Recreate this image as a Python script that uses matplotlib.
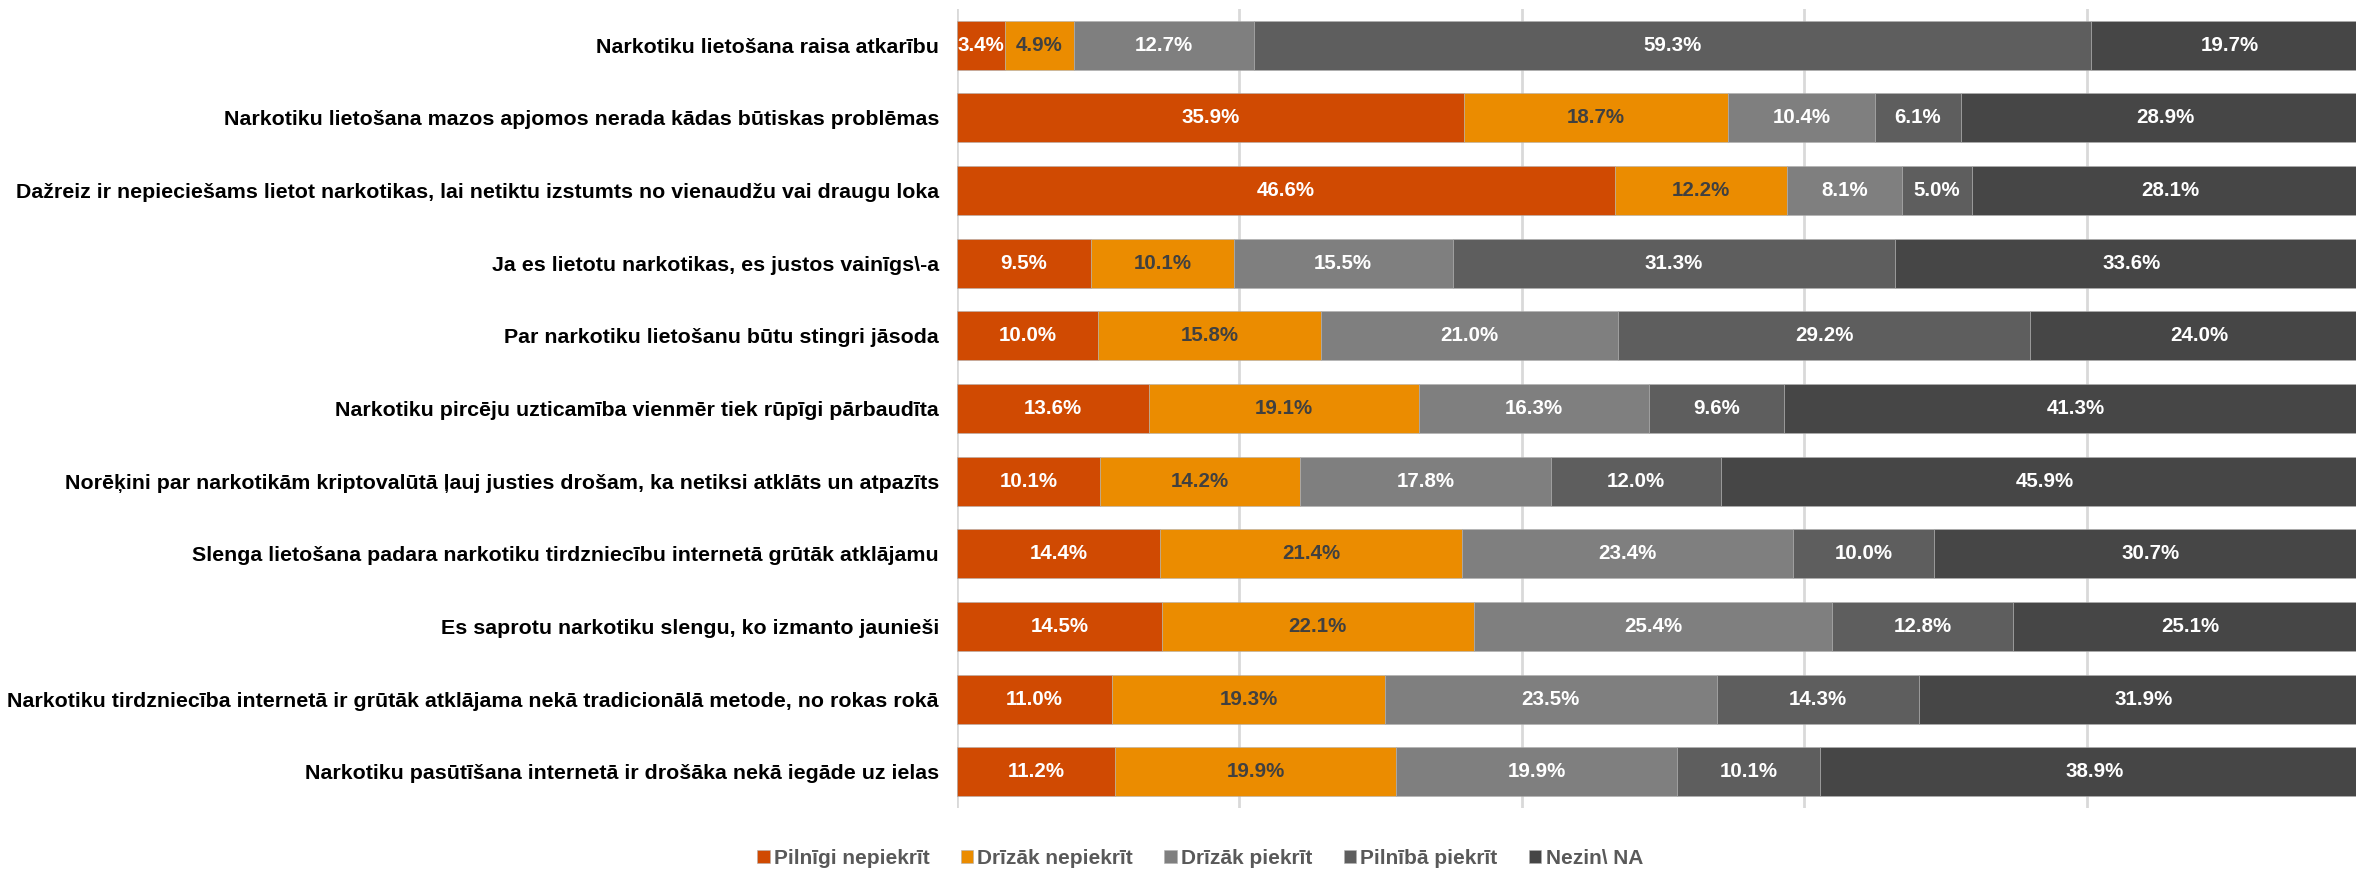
import numpy as np
import matplotlib.pyplot as plt

statements = [
    "Narkotiku lietošana raisa atkarību",
    "Narkotiku lietošana mazos apjomos nerada kādas būtiskas problēmas",
    "Dažreiz ir nepieciešams lietot narkotikas, lai netiktu izstumts no vienaudžu vai draugu loka",
    "Ja es lietotu narkotikas, es justos vainīgs\\-a",
    "Par narkotiku lietošanu būtu stingri jāsoda",
    "Narkotiku pircēju uzticamība vienmēr tiek rūpīgi pārbaudīta",
    "Norēķini par narkotikām kriptovalūtā ļauj justies drošam, ka netiksi atklāts un atpazīts",
    "Slenga lietošana padara narkotiku tirdzniecību internetā grūtāk atklājamu",
    "Es saprotu narkotiku slengu, ko izmanto jaunieši",
    "Narkotiku tirdzniecība internetā ir grūtāk atklājama nekā tradicionālā metode, no rokas rokā",
    "Narkotiku pasūtīšana internetā ir drošāka nekā iegāde uz ielas",
]
answers = ["Pilnīgi nepiekrīt", "Drīzāk nepiekrīt", "Drīzāk piekrīt", "Pilnībā piekrīt", "Nezin\\ NA"]

pilnigi_nepiekrit = [3.4, 35.9, 46.6, 9.5, 10.0, 13.6, 10.1, 14.4, 14.5, 11.0, 11.2]
drizak_nepiekrit = [4.9, 18.7, 12.2, 10.1, 15.8, 19.1, 14.2, 21.4, 22.1, 19.3, 19.9]
drizak_piekrit = [12.7, 10.4, 8.1, 15.5, 21.0, 16.3, 17.8, 23.4, 25.4, 23.5, 19.9]
pilniba_piekrit = [59.3, 6.1, 5.0, 31.3, 29.2, 9.6, 12.0, 10.0, 12.8, 14.3, 10.1]
nezin = [19.7, 28.9, 28.1, 33.6, 24.0, 41.3, 45.9, 30.7, 25.1, 31.9, 38.9]

series = [pilnigi_nepiekrit, drizak_nepiekrit, drizak_piekrit, pilniba_piekrit, nezin]
colors = ["#D04A02", "#EB8C00", "#7F7F7F", "#5E5E5E", "#464646"]
label_colors = ["white", "#404040", "white", "white", "white"]

plt.rcParams['font.family'] = ['Liberation Sans', 'DejaVu Sans']
plt.rcParams['font.weight'] = 'bold'

fig = plt.figure(figsize=(23.56, 8.69), dpi=100)
# axes runs a little past the right edge of the canvas
ax = fig.add_axes([957 / 2356, 1 - 808 / 869, 1412 / 2356, 799 / 869])

y = np.arange(len(statements))
left = np.zeros(len(statements))
for vals, col, tcol, name in zip(series, colors, label_colors, answers):
    vals = np.array(vals)
    ax.barh(y, vals, left=left, height=0.675, color=col, label=name,
            edgecolor="#b0b0b0", linewidth=0.4, zorder=3)
    for yi, l, v in zip(y, left, vals):
        ax.text(l + v / 2, yi, f"{v:.1f}%", ha="center", va="center",
                color=tcol, fontsize=14.8, fontweight="bold", zorder=4)
    left += vals

ax.set_xlim(0, 100)
ax.set_ylim(len(statements) - 0.5, -0.5)
ax.set_yticks(y)
ax.set_yticklabels(statements, fontsize=15.4, fontweight="bold", color="black")
ax.tick_params(axis="y", length=0, pad=13)
ax.set_xticks(np.arange(0, 101, 20))
ax.tick_params(axis="x", length=0, labelbottom=False)
ax.grid(axis="x", color="#d9d9d9", linewidth=2, zorder=0)
for s in ax.spines.values():
    s.set_visible(False)

leg = fig.legend(loc="center", bbox_to_anchor=(1200 / 2356, 1 - 858 / 869), ncol=5,
                 frameon=False, fontsize=15, handlelength=0.6, handleheight=0.6,
                 handletextpad=0.2, columnspacing=1.5)
for t in leg.get_texts():
    t.set_color("#595959")

fig.savefig("out.png", dpi=100)
